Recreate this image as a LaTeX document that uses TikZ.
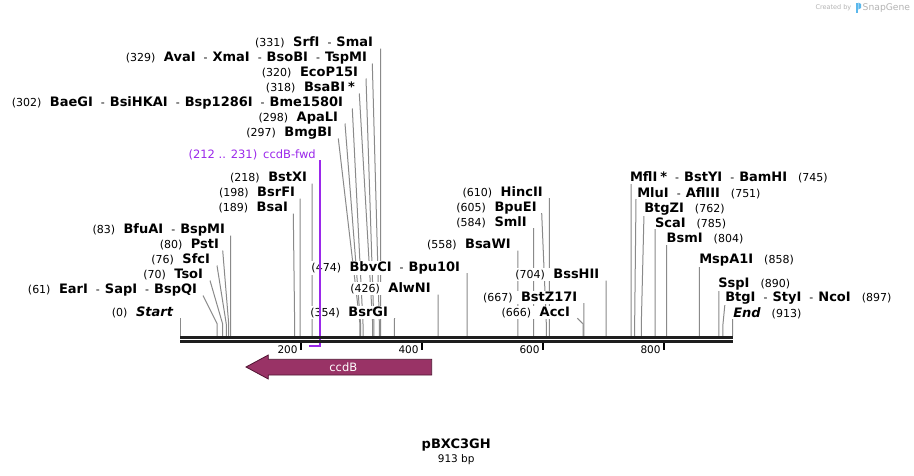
\documentclass[tikz,border=0pt]{standalone}
\usepackage{fontspec}
\setmainfont{DejaVu Sans}
\pgfdeclarelayer{back}
\pgfdeclarelayer{bg}
\pgfsetlayers{back,bg,main}
\definecolor{cutgray}{HTML}{8A8A8A}
\definecolor{primer}{RGB}{155,40,235}
\definecolor{feat}{RGB}{153,51,102}
\definecolor{featdark}{RGB}{80,20,50}
\definecolor{bbcol}{HTML}{1E1E1E}
\definecolor{sgray}{HTML}{B4B4B4}
\definecolor{sblue}{HTML}{5BB8EC}
\newcommand\nb[1]{{\fontsize{11}{12}\selectfont #1}}
\newcommand\nm[1]{{\fontsize{13}{14}\selectfont\bfseries #1}}
\newcommand\sepz{\hspace{8pt}{\mdseries\fontsize{11}{12}\selectfont -}\hspace{5pt}}
\newcommand\enzstar{\hspace{3pt}*}
\tikzset{
  lab/.style={inner xsep=1.5pt, inner ysep=1pt, outer sep=0pt, fill=white, text=black},
  cut/.style={draw=cutgray, line width=1pt},
  bbline/.style={draw=bbcol, line width=3pt},
  tickmark/.style={draw=black, line width=2pt},
  rul/.style={inner sep=0pt, font=\fontsize{10.5}{12}\selectfont},
}
\newcommand\Lz[6]{%
  \node[lab,anchor=base east] (#1) at ({#2+1.5},{-(#3+4.7)}) {\nb{(#5)}\hspace{8.5pt}\nm{#6}};
  \coordinate (#1t) at (#4,{-(#3+6.5)});
  \coordinate (#1b) at ({180.3+0.605*#5},-324);
  \coordinate (#1s) at ({180.3+0.605*#5},-336);
  \begin{pgfonlayer}{bg}\draw[cut] (#1t) -- (#1b) -- (#1s);\end{pgfonlayer}}
\newcommand\Rz[6]{%
  \node[lab,anchor=base west] (#1) at ({#2-1.5},{-(#3+4.7)}) {\nm{#6}\hspace{11pt}\nb{(#5)}};
  \coordinate (#1t) at (#4,{-(#3+6.5)});
  \coordinate (#1b) at ({180.3+0.605*#5},-324);
  \coordinate (#1s) at ({180.3+0.605*#5},-336);
  \begin{pgfonlayer}{bg}\draw[cut] (#1t) -- (#1b) -- (#1s);\end{pgfonlayer}}
\begin{document}
\begin{tikzpicture}[x=1pt,y=1pt]
\begin{pgfonlayer}{back}
\fill[white] (0,0) rectangle (914,-475);
\end{pgfonlayer}
\useasboundingbox (0,0) rectangle (914,-475);
% left labels
\Lz{srf}{373}{42}{380.6}{331}{SrfI\sepz SmaI}
\Lz{ava}{367}{57}{372.3}{329}{AvaI\sepz XmaI\sepz BsoBI\sepz TspMI}
\Lz{eco}{358}{72}{366}{320}{EcoP15I}
\Lz{bsab}{355}{87}{359.3}{318}{BsaBI\enzstar}
\Lz{baeg}{343}{102}{352.3}{302}{BaeGI\sepz BsiHKAI\sepz Bsp1286I\sepz Bme1580I}
\Lz{apa}{338}{117}{345}{298}{ApaLI}
\Lz{bmg}{332}{132}{338.3}{297}{BmgBI}
\Lz{bstx}{307}{177}{312.2}{218}{BstXI}
\Lz{bsrf}{295}{192}{300.1}{198}{BsrFI}
\Lz{bsai}{288}{207}{293.3}{189}{BsaI}
\Lz{bfua}{225}{229}{230.5}{83}{BfuAI\sepz BspMI}
\Lz{pst}{219}{244}{222.7}{80}{PstI}
\Lz{sfc}{210}{259}{217}{76}{SfcI}
\Lz{tso}{203}{274}{210}{70}{TsoI}
\Lz{ear}{197}{289}{203}{61}{EarI\sepz SapI\sepz BspQI}
\Lz{start}{173}{311.7}{180.3}{0}{\itshape Start}
\Lz{bbv}{460}{266.7}{467.1}{474}{BbvCI\sepz Bpu10I}
\Lz{alw}{430.7}{288}{438}{426}{AlwNI}
\Lz{bsrg}{388}{311.7}{394.5}{354}{BsrGI}
\Lz{bsaw}{510.7}{244}{517.9}{558}{BsaWI}
\Lz{sml}{526.7}{221.7}{533.6}{584}{SmlI}
\Lz{bpue}{536.7}{206.7}{541.7}{605}{BpuEI}
\Lz{hinc}{542.7}{191.7}{549.4}{610}{HincII}
\Lz{bssh}{599.3}{274}{606.2}{704}{BssHII}
\Lz{bstz}{577.3}{296.7}{583.8}{667}{BstZ17I}
\Lz{acc}{570}{311.7}{577.3}{666}{AccI}
% right labels
\Rz{mfl}{630}{176.7}{631}{745}{MflI\enzstar\sepz BstYI\sepz BamHI}
\Rz{mlu}{637.3}{192.3}{636}{751}{MluI\sepz AflIII}
\Rz{btgz}{644.3}{207.3}{644}{762}{BtgZI}
\Rz{sca}{655}{222.3}{655.2}{785}{ScaI}
\Rz{bsm}{666.7}{237.7}{666.7}{804}{BsmI}
\Rz{msp}{699.3}{259}{699.4}{858}{MspA1I}
\Rz{ssp}{718.3}{282.3}{718.8}{890}{SspI}
\Rz{btgi}{725.3}{296.7}{725}{897}{BtgI\sepz StyI\sepz NcoI}
\Rz{end}{733.3}{312.3}{732.7}{913}{\itshape End}
% primer
\node[inner xsep=1.5pt, inner ysep=1pt, anchor=base east, text=primer, font=\fontsize{11.5}{12}\selectfont] (fwd) at (317.5,-158.3) {(212 .. 231)\hspace{6pt}ccdB-fwd};
\coordinate (fwdt) at (320.1,-160);
\coordinate (fwdc) at (320.1,-345.7);
\coordinate (fwds) at (308.6,-345.7);
\draw[draw=primer, line width=2pt] (fwdt) -- (fwdc) -- (fwds);
% backbone
\draw[bbline] (180,-337.5) -- (733.3,-337.5);
\draw[bbline] (180,-341.8) -- (733.3,-341.8);
% ruler
\foreach \v in {200,400,600,800} {
  \draw[tickmark] ({180.3+0.605*\v},-343.3) -- ++(0,-6.7);
  \node[rul, anchor=east] (r\v) at ({180.3+0.605*\v-3.5},-349.5) {\v};
}
% feature
\draw[fill=feat, draw=featdark, line width=0.8pt] (431.7,-359.3) -- (268.3,-359.3) -- (268.3,-355) -- (246,-367) -- (268.3,-379) -- (268.3,-375) -- (431.7,-375) -- cycle;
\node[text=white, inner sep=0pt, font=\fontsize{11.5}{12}\selectfont] (ccdb) at (343.3,-367) {ccdB};
% title
\node[inner sep=0pt, font=\fontsize{13}{14}\selectfont\bfseries] (title) at (456.2,-445) {pBXC3GH};
\node[inner sep=0pt, font=\fontsize{10.5}{12}\selectfont] (len) at (456.2,-459.5) {913 bp};
% credit
\node[inner sep=0pt, anchor=east, text=sgray, font=\fontsize{6.5}{8}\selectfont] (cby) at (851.5,-8) {Created by};
\fill[sblue] (856,-2.5) rectangle (858.3,-13) ;
\fill[sblue] (858.3,-2.5) -- (861,-4) -- (861,-8) -- (858.3,-9.5) -- cycle;
\node[inner sep=0pt, anchor=west, text=sgray, font=\fontsize{9.2}{10}\selectfont] (sg) at (862.5,-8) {SnapGene};
\end{tikzpicture}
\end{document}
